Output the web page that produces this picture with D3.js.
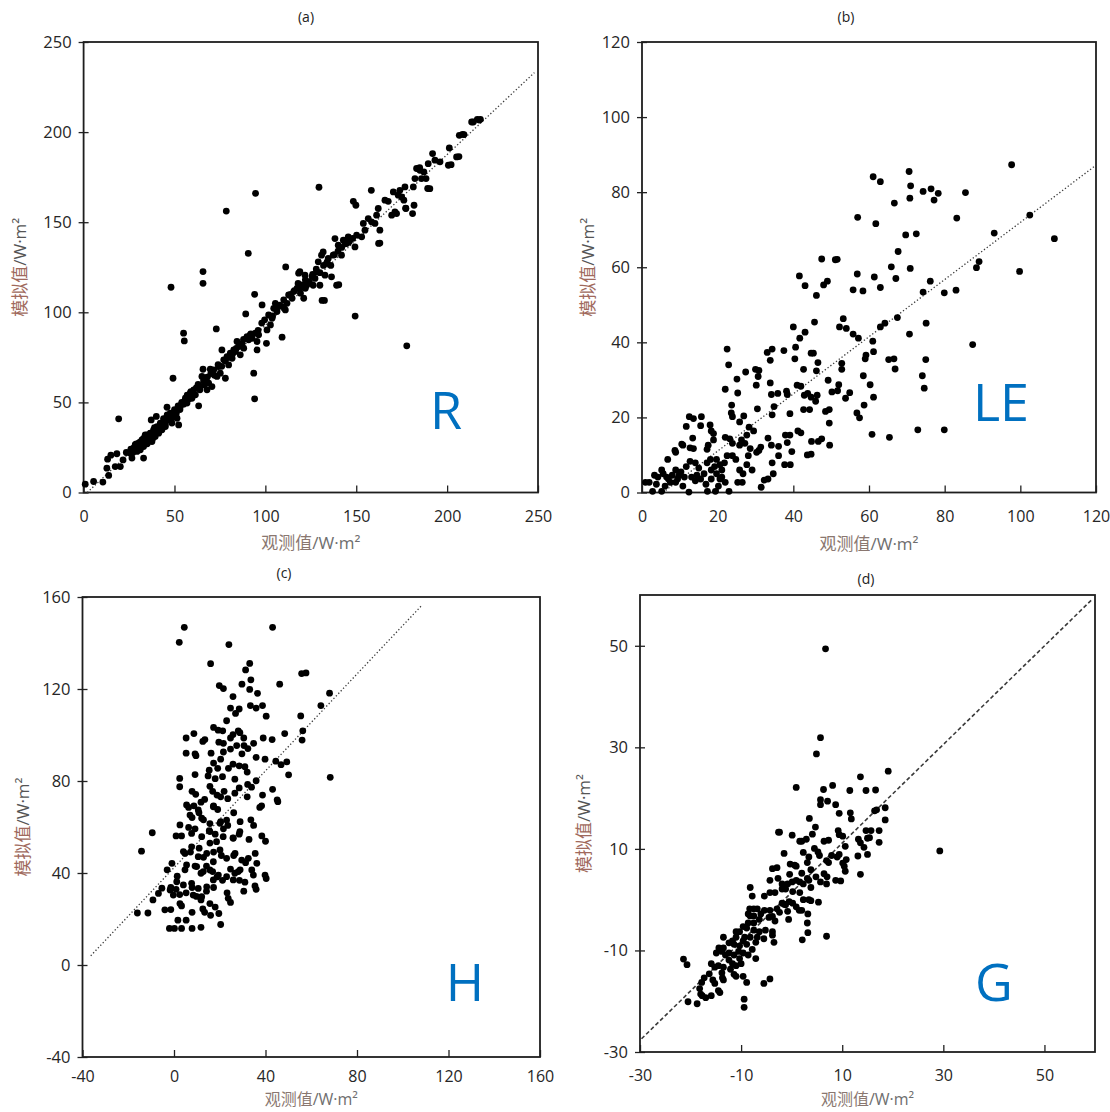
<!DOCTYPE html>
<html>
<head>
<meta charset="utf-8">
<script src="https://cdn.jsdelivr.net/npm/d3@7"></script>
<style>
  body { margin: 0; background: #fff; }
  svg text { font-family: "Open Sans", "Noto Sans", sans-serif; }
</style>
</head>
<body>
<svg id="chart" width="1110" height="1112"></svg>
<script>
// ---- observed vs simulated flux pairs [observed, simulated] (W·m⁻²) ----
const rPairs = [
  [0.9,4.6],[5.5,6.1],[10.6,5.8],[13.8,9.5],[12.8,13.5],[13.2,18.5],[15,20.7],[18.3,21.5],[19.3,40.9],[17.4,14.4],
  [20.2,14.4],[21.7,18.1],[23.5,22.2],[25.7,21.8],[26.6,19.1],[27.5,24.6],[28.4,26.5],[29.4,22.8],[30.3,27.4],[31.2,23.7],
  [32.1,29.2],[33,25.5],[33,19.1],[33.9,32],[34.9,27.4],[35.8,30.2],[36.7,32.9],[37.6,28.3],[38.5,34.8],[40,42.2],
  [37.2,40.3],[39.4,31.1],[40.4,36.6],[41.3,32.9],[42.2,38.5],[43.1,34.8],[44,39.4],[45,36.6],[45.9,47.3],[45.9,42.2],
  [46.8,40.3],[47.7,44],[48.6,38.5],[49.2,63.4],[49.5,42.2],[50.5,45],[51.4,41.2],[52.3,37.5],[53.2,47.7],[54.1,49.6],
  [55,88.4],[55.4,84.1],[56,52.3],[56.9,49.6],[57.8,53.3],[58.7,55.1],[59.6,52.3],[60.6,57],[61.5,54.2],[63.3,48.1],
  [64.2,58.8],[65.1,64.4],[65.7,68.4],[65.7,116.1],[65.7,122.6],[66.4,59.7],[67,62.5],[67.9,57],[68.8,60.7],[69.7,68.4],
  [70.6,58.8],[71.6,68.1],[48.1,113.9],[73,90.8],[73.4,64.4],[74.3,69.9],[75.2,66.2],[76.1,79.1],[77.1,73.6],[78,63.4],
  [78.9,75.4],[79.8,70.8],[80.7,77.3],[81.7,74.5],[82.6,79.1],[83.5,78.2],[84.4,83.8],[85.3,81],[86.2,76.4],[87.2,82.8],
  [88.1,80.1],[89.2,99.1],[89.9,86.5],[90.8,84.7],[91.7,87.5],[92.7,85.6],[93.6,66.2],[94.1,52],[94.1,110],[94.5,88.4],
  [95.4,83.8],[95.4,79.1],[96.3,87.5],[98.2,104.1],[99.6,95.8],[100.6,82.8],[100.9,90.2],[101.8,98.5],[102.8,93],[103.7,96.7],
  [104.6,102.2],[105.5,105],[106.4,100.4],[107.3,103.2],[109.2,86.2],[110.1,106.9],[111,101.3],[111.9,105],[112.8,109.6],[114.7,107.8],
  [115.6,111.5],[117.4,113.3],[119.3,110.6],[120.2,115.2],[121.1,107.8],[122,113.3],[123.9,116.1],[118.3,121.7],[125.7,119.8],[111.2,125.2],
  [119,122.5],[121.8,120.6],[122.7,115],[126.3,115],[130,115],[127.3,118.8],[128.2,122.5],[129.1,128],[129.5,169.4],[130.9,131.7],
  [131.8,133.5],[132.8,120.6],[133.7,127.1],[134.6,129.9],[136.4,119.7],[137.3,131.7],[139.2,115],[138.3,140.9],[140.1,137.2],[141.9,131.7],
  [142.9,140],[144.7,138.2],[145.6,141.9],[146.4,140],[148.4,161.6],[149.8,159.4],[149.3,136.3],[150.2,142.8],[153,141.9],[153.9,149.3],
  [154.8,145.6],[156.6,152],[158.4,150.2],[158.3,167.7],[160.3,149.3],[161.2,153.9],[162.3,138.2],[162.1,157.6],[163,145.6],[165.8,162.2],
  [167.6,161.6],[169.5,153.9],[170.4,166.8],[171.3,155.7],[172.2,154.8],[173.1,165],[174,167.7],[175,164],[176.2,162.2],[176.8,169.6],
  [177.3,157.6],[181.4,169.6],[181.8,159.4],[181,154.8],[182.3,174.2],[183.2,179.8],[185,178.8],[185.9,174.2],[187.2,177.9],[188.4,174.2],
  [189.3,168.7],[189.6,182.5],[192,188.1],[193.3,184.4],[196.1,183.5],[201.2,191.2],[200.7,181.6],[205.2,186.2],[206.7,198.2],[209.3,198.6],
  [213.5,205.6],[216.6,207.1],[217.7,206.7],[94.6,166],[78.5,156.2],[90.6,132.7],[177.8,81.4],[149.4,97.9],[131.2,106.6],[132.5,106.6],
  [140.4,115.3],[163,138.4],[202.2,181.9],[206.5,186.4],[208.5,198.7],[214.4,205.6],[218.3,207.1],[190.5,168.6],[184.9,180.3],[177.2,157.8],
  [26,24],[27,22],[28,25],[29,27],[30,24],[31,28],[32,26],[33,30],[34,29],[35,27],
  [35,32],[36,31],[37,33],[38,30],[39,36],[40,33],[41,35],[42,37],[43,36],[44,41],
  [45,38],[46,43],[47,42],[48,40],[49,44],[50,46],[51,44],[52,48],[53,46],[54,50],
  [55,49],[56,51],[57,54],[58,52],[59,56],[60,55],[62,58],[63,60],[64,57],[66,62],
  [68,64],[70,66],[72,65],[74,71],[76,70],[78,73],[80,75],[82,77],[84,80],[86,82],
  [88,85],[90,86],[92,88],[96,90],[98,94],[104,98],[106,102],[108,104],[110,103],[114,110],
  [116,112],[118,116],[120,114],[122,118],[124,117],[126,121],[128,124],[130,122],[132,126],[134,128],
  [136,126],[138,132],[140,134],[142,136],[144,138],[146,139],[148,141]
];
const lePairs = [
  [61.1,84.1],[63,82.8],[70.6,85.5],[71,81.7],[70.8,78.4],[66.7,77.1],[74.3,80.2],[76.4,80.9],[77.2,77.9],[78.3,79.7],
  [85.5,79.9],[97.7,87.3],[102.5,73.9],[83.2,73.1],[57,73.3],[61.8,71.6],[69.7,68.6],[72.5,68.9],[93.1,69.1],[109,67.6],
  [67.7,64.2],[47.5,62.2],[51.1,62],[51.6,62.1],[49,56.3],[48,55.3],[43.1,55.1],[41.6,57.7],[46.1,52.5],[56.9,58.2],
  [61.4,57.4],[65.9,60.1],[70.9,59.7],[67.1,57],[63,54.6],[55.8,54],[58.4,53.7],[76.2,56.3],[74.3,53.4],[79.9,53.2],
  [83,53.9],[88.4,59.9],[89.1,61.5],[99.8,58.9],[67.5,46.6],[53.2,46.3],[52.2,44.1],[54,43.7],[45.6,45.4],[43.1,42.7],
  [40,44.1],[41.7,41.1],[40.6,38.7],[37.5,37.8],[34.4,38.2],[33.1,37.3],[33.9,35.2],[22.5,38.2],[22.9,34],[55.8,42.2],
  [57.2,41.1],[63,44.1],[64.2,45.1],[61,40.3],[61.2,37.5],[59.2,36.6],[59,35.6],[65.2,35.4],[66.6,35.6],[66.9,32.9],
  [75,35.4],[74.1,31.1],[74.6,27.8],[75.1,45.1],[70.7,42.2],[87.4,39.4],[52.8,34.4],[52.8,32.8],[58.5,31.1],[60.3,28.7],
  [61.2,25.4],[58.7,23.3],[56.8,21.2],[57.5,19.9],[54.9,26.6],[53.8,25.1],[51.7,27.1],[50.2,26.8],[52,28.7],[49.2,29.9],
  [49.5,18.5],[49.5,22.1],[48.5,21.6],[49.6,12.6],[60.8,15.5],[65.4,14.7],[72.9,16.7],[79.9,16.7],[46.5,34.6],[46.1,32.4],
  [44.7,37.1],[45.3,37.1],[42.7,32.8],[41,28.6],[42,28.3],[42.9,25.9],[43.8,26.4],[44.7,25.4],[45.9,24.3],[46.3,25.9],
  [42.7,22.1],[44.3,22.1],[40.4,35.6],[38.2,27],[38.4,26.1],[35.9,26.4],[34.2,26.1],[33.9,29.2],[30.2,28.6],[30.9,32.5],
  [30,32.8],[30.7,30.9],[27.4,32.1],[25.1,30.2],[25.3,26.5],[22,27.5],[23.7,23.3],[23.6,21.2],[23.9,20.2],[25.8,18.8],
  [26.9,20.4],[30.5,22.3],[34.4,20.7],[34.9,22.9],[39.1,21],[41.2,16.4],[42,15.9],[44.8,13.6],[43.7,10],[44.7,10.2],
  [47.5,14.3],[46.6,13.6],[37.9,15.3],[39.1,15.3],[38.4,13.3],[39.6,10.9],[37.7,7.4],[39.2,7.4],[36.1,9.8],[36.1,12.3],
  [34.2,12.6],[33.3,14.5],[34.4,7.9],[34.7,5],[33.3,3.6],[32.3,3.3],[31.5,1.4],[30.9,11.2],[31.4,12.1],[30.3,10.7],
  [29.5,16.4],[28.3,17.4],[27.7,15.3],[27.2,13.1],[26.3,14],[25.8,12.6],[28.6,11.7],[28.1,9.8],[27.7,7.4],[29.1,6],
  [26.7,5],[25.8,6],[25.3,2.7],[26.5,2.7],[23,0.3],[23.9,9.8],[24.8,8.8],[23.9,13.1],[23.2,14.3],[22,14.7],
  [22.5,9.8],[21.8,7.9],[21.1,6],[20.6,3.6],[19.2,6.9],[18.9,14],[18.3,16.4],[18,18],[18.9,15.7],[17.5,12.6],
  [17.2,11.5],[18.1,8.8],[17.2,7.9],[16.4,5],[15.5,17.8],[15.7,20.2],[13.6,19.7],[12.5,20.2],[13.4,14.5],[11.7,17.6],
  [12.7,11.9],[13.6,11.7],[10.8,12.6],[10.5,12.9],[8.9,10.7],[8.7,11.2],[6.8,8.8],[12.7,8.3],[14.1,7.9],[15,6.5],
  [11.7,6.9],[10.3,5.5],[8,4.6],[9.4,3.6],[5.6,5],[4.2,4.1],[3.3,4.6],[1.9,2.7],[0.9,2.7],[2.8,0.3],
  [5.2,0.3],[6.1,1.7],[7.5,2.7],[8.9,2.7],[10.8,1.7],[12.4,0.1],[14.1,3.1],[15.5,3.6],[16.9,2.2],[18.3,3.6],
  [19.4,0.3],[20.2,1.7],[17.3,0.3],[14.5,4.6],[13.1,4.1],[11.2,4.1],[9.8,4.6],[7,3.6],[8.9,6],[5.2,6],
  [3.8,2.2],[6.5,4.1],[18.3,6],[19.7,5],[21.1,4.1],[22,2.7],[19.7,8.8],[20.6,7.4]
];
const hPairs = [
  [4.5,146.8],[2.3,140.3],[24,139.3],[43.1,146.8],[16,131],[33.1,131.1],[31.3,128.3],[55.8,126.7],[57.7,127],[19.8,121.5],
  [21.6,120.2],[29.7,122.1],[33.6,124],[33.1,119.8],[36.5,118.1],[46.2,122.1],[68,118.2],[25.8,116.7],[24.7,111.7],[28.5,111.3],
  [26.9,109.4],[33.4,112.8],[35.9,111.7],[38.7,112.8],[40.3,108.2],[55.4,108.3],[64.2,112.8],[23,106.2],[17.3,103.3],[19.3,102.1],
  [21.3,101.8],[25.8,100.2],[28.1,101.8],[30.5,98.7],[28.8,101],[24.7,98.7],[5.3,98.7],[8.7,100.6],[12.6,97.2],[13.5,98],
  [19.6,96.9],[21.6,96.4],[27.4,95.4],[30.6,95.4],[34.8,96.4],[39,98.7],[42.9,98],[48.4,100.6],[56.3,101.8],[56,97.8],
  [5.3,92.1],[9.2,91.8],[9.6,91],[16.2,92.1],[20.4,89.5],[21.6,92.6],[24.7,93.9],[29.7,91.8],[32.3,94.1],[35.9,90.3],
  [39.8,89.5],[44.5,88.6],[46.8,87.1],[49.3,88.3],[50.1,82.7],[2.5,81.1],[2.5,77.5],[9.2,82.8],[15.4,84.7],[17.3,87.8],
  [19.1,85.5],[23.8,85.5],[25.8,87.3],[28.5,86.6],[31,86.2],[32,83.9],[14.9,82.2],[18,81],[21.2,81.9],[26.6,80.8],
  [32.2,78.5],[33.9,77.3],[35.9,80.1],[68.3,81.6],[15.7,77.7],[16.9,75.5],[18.8,73.9],[20.4,73.1],[21.9,75.5],[23.5,72.3],
  [26.6,74.7],[28.5,77],[32,73.1],[38.7,73.9],[43.1,76.4],[45.1,71.8],[45.4,71],[7.9,75.5],[9.5,74.2],[11.8,70.8],
  [13.4,72],[6.4,68.5],[8.7,69.2],[17.3,69.2],[19.1,67.6],[26.1,66.2],[37.5,68.5],[38.3,69.2],[7.9,64.1],[10.9,66.2],
  [12.9,63.1],[15.7,61.5],[20.4,62.3],[23.5,60.7],[28.9,62.3],[33.6,63.1],[34.8,60.7],[0.9,56.1],[3.3,56.1],[6.4,59.8],
  [9.2,59.2],[15.4,58.4],[18,56.9],[21.6,59.2],[25.8,55.3],[28.5,56.9],[32.8,54.6],[38.4,56.1],[40,53.8],[-9.5,57.5],
  [-14.2,49.5],[4.8,48.5],[7.2,49.1],[11,50.8],[12.9,46.8],[15.7,53],[17.3,49.1],[20.7,47.6],[26.1,47.6],[35.5,48.5],
  [-0.9,44.2],[1.4,38.6],[4.8,41.4],[9.2,43],[11.8,39.9],[14.2,43],[16.9,40.6],[18.8,38.3],[21.2,36.8],[24.7,41.7],
  [26.6,39.9],[28.9,41.4],[31.3,44.5],[34.7,39.1],[40.3,37.6],[35.9,32.9],[-3,41.4],[-5.3,33.4],[-6.8,31.1],[-9.2,28.3],
  [-1.4,33.7],[0.9,32.9],[2.5,30.6],[5.3,31.4],[7.9,33.7],[9.8,29.8],[11.8,28.3],[14.2,32.1],[17.3,33.7],[23.2,31.4],
  [24.7,27.2],[30.5,32.1],[31,36],[28.6,36.8],[-16,22.6],[-11.4,22.6],[-4,24],[-1.4,24.1],[3.3,25.7],[7.9,22.9],
  [12.6,24.4],[13.4,22.9],[16,21.6],[18,25.2],[19.6,22.4],[20.4,17.6],[1.7,19.5],[5.3,19.5],[-2,15.9],[0.2,15.9],
  [3.3,15.9],[7.9,15.9],[11.8,16.4],[5.5,69.6],[10.6,67.4],[17.2,68.8],[7,65.2],[12.1,63.8],[20.1,61.6],[23,63],
  [2.6,60.9],[7.7,57.2],[12.1,55.8],[15.7,58],[18.6,53.6],[21.5,55.8],[25.9,55.1],[28.8,58],[4.1,49.3],[7.7,51.4],
  [10.6,47.1],[14.3,48.5],[17.2,44.9],[20.1,50],[23,46.4],[26.7,48.5],[29.6,45.6],[32.5,46.4],[5.5,43.5],[9.9,42.8],
  [12.8,40.6],[15.7,41.3],[19.4,39.1],[23,38.4],[25.9,37],[28.1,40.6],[1.2,36.2],[4.1,34.8],[7.7,35.5],[10.6,33.3],
  [14.3,34],[17.2,37],[-1.7,32.6],[-0.3,30.4],[8.4,30.4],[12.1,29.7],[2.6,26.7],[15.7,26.7],[23.7,29],[35.4,34.4],
  [39.8,39.1],[36.2,44.2],[34,41.3]
];
const gPairs = [
  [6.7,49.4],[5.7,31.9],[4.9,28.7],[19.1,25.3],[13.6,24.2],[0.9,22.1],[6.3,21.7],[8.1,22.5],[11.5,21.5],[14.7,21.5],
  [16.6,21.6],[5.7,19.7],[5.7,18.7],[7.1,19.4],[8.7,18.7],[18.5,18.1],[16.4,17.5],[16.8,17.7],[11.6,17.1],[11.8,15.9],
  [9.4,17],[18.5,15.7],[3.5,16],[4.7,14.3],[-2.6,13.3],[-2.4,13.3],[0.1,12.7],[1.6,11.5],[2,11.5],[2.9,11.9],
  [4.1,12.9],[6.4,11.5],[7.3,11.7],[9.2,13.6],[9.4,12.8],[10.1,12.5],[13.2,11.9],[13.6,11.2],[15,12.1],[15.4,12.2],
  [14.7,13.6],[15.7,13.6],[17.3,13.6],[17.3,11.3],[10.6,10.5],[14.3,10.3],[15,8.9],[13.1,8.6],[10.8,7.9],[10.1,7.2],
  [7.9,8.7],[9.4,8.9],[9,8.4],[6.9,7.7],[7.3,7.3],[5.2,9.4],[5.5,8.7],[4.5,10.1],[3.1,7.3],[3.4,8.4],
  [2.3,9.3],[0.9,6.6],[0.6,6.8],[2,5.2],[3.8,5.9],[4.8,4.5],[6.4,5.1],[7,4.5],[8.7,3.8],[9.7,3.7],
  [10.4,6.6],[10.6,5.6],[13.6,5],[5.7,3.5],[6.9,3.1],[29.3,9.6],[-1.5,9.1],[-0.3,7],[-0.4,5],[-3.8,6.1],
  [-2.9,6.3],[-4.3,3.8],[-2.7,4.2],[-1.9,3.1],[-0.8,3.1],[0.1,3.5],[0.9,3.8],[1.6,3.5],[2.3,3.1],[3.1,4.2],
  [3.4,3.8],[3.8,2.4],[-8.2,2.4],[-7.8,0.7],[-5.4,0.7],[-4.3,1.4],[-3.3,1.4],[-1.9,2.1],[-1.2,2.1],[0.2,1.6],
  [1.6,1.4],[2.3,0],[3.4,0],[3.8,-0.2],[5.3,-0.5],[-0.5,-0.4],[0.2,-0.7],[-1.5,-0.9],[0.9,-1.4],[1.5,-2.1],
  [2,-2.1],[3.2,-2.8],[3.1,-4.6],[3.2,-6.5],[2.1,-7.9],[6.9,-7.2],[-1.2,-1],[-0.6,-3.9],[-0.8,-2.3],[-2.4,-2.5],
  [-1.9,-0.7],[-2.9,-1.8],[-4.3,-2.1],[-3.8,-3.3],[-3.3,-4.2],[-4.5,-3.5],[-5.4,-2.1],[-6.1,-2.8],[-6.8,-1.8],[-7.5,-1.8],
  [-8.3,-1.8],[-8.6,-2.8],[-8.2,-3.2],[-7.5,-3.2],[-6.4,-3.9],[-7.5,-4.6],[-8.6,-4.6],[-9.6,-5.3],[-10.3,-6.3],[-11,-6.3],
  [-8.9,-5.6],[-7.5,-6],[-6.4,-6.3],[-3.8,-6.3],[-3.8,-7],[-3.5,-8.4],[-5.2,-6],[-5.5,-7.7],[-6.8,-7.4],[-7.1,-8.4],
  [-8.2,-7.4],[-9.3,-7.4],[-9.6,-8.1],[-11,-7.4],[-11.7,-8.1],[-11.4,-8.8],[-10.3,-9.1],[-8.9,-8.8],[-7.8,-9.8],[-7.1,-11.6],
  [-8.6,-10.9],[-9.6,-10.5],[-10.5,-10.2],[-11.4,-10.9],[-12.4,-10.5],[-13.1,-10.9],[-13.5,-7.4],[-12.4,-8.5],[-13.5,-9.5],[-14.4,-9.5],
  [-13.8,-10.2],[-12.4,-11.9],[-11.7,-12.6],[-11,-13],[-10,-12.6],[-10.3,-11.6],[-12.1,-13.7],[-13.5,-13.3],[-14.5,-13],[-15.9,-12.6],
  [-15.2,-13.3],[-13.8,-14.4],[-13.7,-15.4],[-13.5,-15.8],[-11.4,-14.7],[-11,-15.1],[-9.6,-15.1],[-8.9,-16.3],[-5.5,-16.5],[-4.3,-15.6],
  [-15.2,-16.5],[-14.5,-17.9],[-14.2,-18.3],[-16.3,-14.6],[-17.8,-16.3],[-18.2,-17.5],[-17.7,-18.9],[-17,-19.3],[-15.9,-18.9],[-18.7,-20.5],
  [-20.5,-20.1],[-21.4,-11.7],[-20.7,-12.8],[-9.4,-19.6],[-9.4,-21.2],[-18,-18.6],[-15.6,-15.8],[-17.3,-15.4],[-14.9,-10.5]
];

// ---- regression lines (start and end points, data units) ----
const rFit  = [[2, 0], [248, 233]];
const leFit = [[5.5, 0], [119.5, 86.8]];
const hFit  = [[-36.4, 4], [108, 156]];
const gFit  = [[-29.7, -27.4], [59.5, 59.2]];

// ---- axis ticks ----
const rTicks  = [0, 50, 100, 150, 200, 250];
const leTicks = [0, 20, 40, 60, 80, 100, 120];
const hTicks  = [-40, 0, 40, 80, 120, 160];
const gTicks  = [-30, -10, 10, 30, 50];

const panels = [
  { title: "(a)", letter: "R",  pts: rPairs,  fit: rFit,  xDom: [0, 250],  yDom: [0, 250],  ticks: rTicks,
    box: { l: 83.6, r: 538, t: 42, b: 492.5 }, titleXY: [306, 22], letterXY: [446, 429], yTitleX: 20,
    tickOff: 24, xTitleOff: 51, xTitleSize: 17, dash: "1.3,2.2", lineW: 1.3 },
  { title: "(b)", letter: "LE", pts: lePairs, fit: leFit, xDom: [0, 120],  yDom: [0, 120],  ticks: leTicks,
    box: { l: 642, r: 1096, t: 42, b: 492.5 }, titleXY: [846, 22], letterXY: [1001, 421], yTitleX: 588,
    tickOff: 24, xTitleOff: 52, xTitleSize: 17, dash: "1.3,2.2", lineW: 1.3 },
  { title: "(c)", letter: "H",  pts: hPairs,  fit: hFit,  xDom: [-40, 160], yDom: [-40, 160], ticks: hTicks,
    box: { l: 82.5, r: 540, t: 597, b: 1057 }, titleXY: [284, 578], letterXY: [465, 1001], yTitleX: 23,
    tickOff: 19, xTitleOff: 42, xTitleSize: 16, dash: "1.3,2.2", lineW: 1.3 },
  { title: "(d)", letter: "G",  pts: gPairs,  fit: gFit,  xDom: [-30, 60], yDom: [-30, 60], ticks: gTicks,
    box: { l: 640, r: 1095, t: 595, b: 1052 }, titleXY: [866, 584], letterXY: [994, 1001], yTitleX: 584,
    tickOff: 23, xTitleOff: 47, xTitleSize: 16, dash: "4,2.5", lineW: 1.6 }
];

const svg = d3.select("#chart");
const fmt = d => String(d);   // plain hyphen-minus labels

panels.forEach(p => {
  const { l, r, t, b } = p.box;
  const x = d3.scaleLinear().domain(p.xDom).range([l, r]);
  const y = d3.scaleLinear().domain(p.yDom).range([b, t]);
  const g = svg.append("g");

  // panel title
  g.append("text").attr("x", p.titleXY[0]).attr("y", p.titleXY[1])
    .attr("text-anchor", "middle").attr("font-size", 14).attr("fill", "#222").text(p.title);

  // left axis: ticks cross the axis line
  const yAxis = g.append("g").attr("transform", `translate(${l},0)`)
    .call(d3.axisLeft(y).tickValues(p.ticks).tickSizeInner(5).tickSizeOuter(0).tickPadding(8).tickFormat(fmt));
  yAxis.select(".domain").remove();
  yAxis.selectAll(".tick line").attr("x1", 5).attr("stroke", "#222").attr("stroke-width", 1.3);
  yAxis.selectAll(".tick text").attr("font-size", 16.5).attr("fill", "#262626").attr("x", -12)
    .style("font-family", '"Open Sans", sans-serif');

  // bottom axis: ticks point up into the plot
  const xAxis = g.append("g").attr("transform", `translate(0,${b})`)
    .call(d3.axisBottom(x).tickValues(p.ticks).tickSizeInner(-7).tickSizeOuter(0).tickFormat(fmt));
  xAxis.select(".domain").remove();
  xAxis.selectAll(".tick line").attr("stroke", "#222").attr("stroke-width", 1.3);
  xAxis.selectAll(".tick text").attr("font-size", 16).attr("fill", "#262626").attr("y", p.tickOff).attr("dy", "0.35em")
    .style("font-family", '"Open Sans", sans-serif');

  // frame
  g.append("rect").attr("x", l).attr("y", t).attr("width", r - l).attr("height", b - t)
    .attr("fill", "none").attr("stroke", "#1e1e1e").attr("stroke-width", 1.8);

  // regression line
  g.append("line")
    .attr("x1", x(p.fit[0][0])).attr("y1", y(p.fit[0][1]))
    .attr("x2", x(p.fit[1][0])).attr("y2", y(p.fit[1][1]))
    .attr("stroke", "#3a3a3a").attr("stroke-width", p.lineW).attr("stroke-dasharray", p.dash);

  // points
  g.append("g").selectAll("circle").data(p.pts).join("circle")
    .attr("cx", d => x(d[0])).attr("cy", d => y(d[1])).attr("r", 3.4).attr("fill", "#000");

  // variable letter
  g.append("text").attr("x", p.letterXY[0]).attr("y", p.letterXY[1]).attr("text-anchor", "middle")
    .attr("font-size", 52).attr("fill", "#0070C0").text(p.letter);

  // x-axis title
  const xt = g.append("text").attr("x", (l + r) / 2).attr("y", b + p.xTitleOff).attr("text-anchor", "middle")
    .attr("dy", "0.35em").attr("font-size", p.xTitleSize);
  xt.append("tspan").attr("fill", "#8a7770").style("font-family", '"Noto Sans CJK SC", sans-serif').text("观测值");
  xt.append("tspan").attr("fill", "#6e6e6e").style("font-family", '"Open Sans", sans-serif').text("/W·m²");

  // y-axis title
  const cy = (t + b) / 2;
  const yt = g.append("text").attr("transform", `translate(${p.yTitleX},${cy}) rotate(-90)`)
    .attr("text-anchor", "middle").attr("dy", "0.35em").attr("font-size", 17);
  yt.append("tspan").attr("fill", "#a0695c").style("font-family", '"Noto Sans CJK SC", sans-serif').text("模拟值");
  yt.append("tspan").attr("fill", "#555").style("font-family", '"Open Sans", sans-serif').text("/W·m²");
});
</script>
</body>
</html>
